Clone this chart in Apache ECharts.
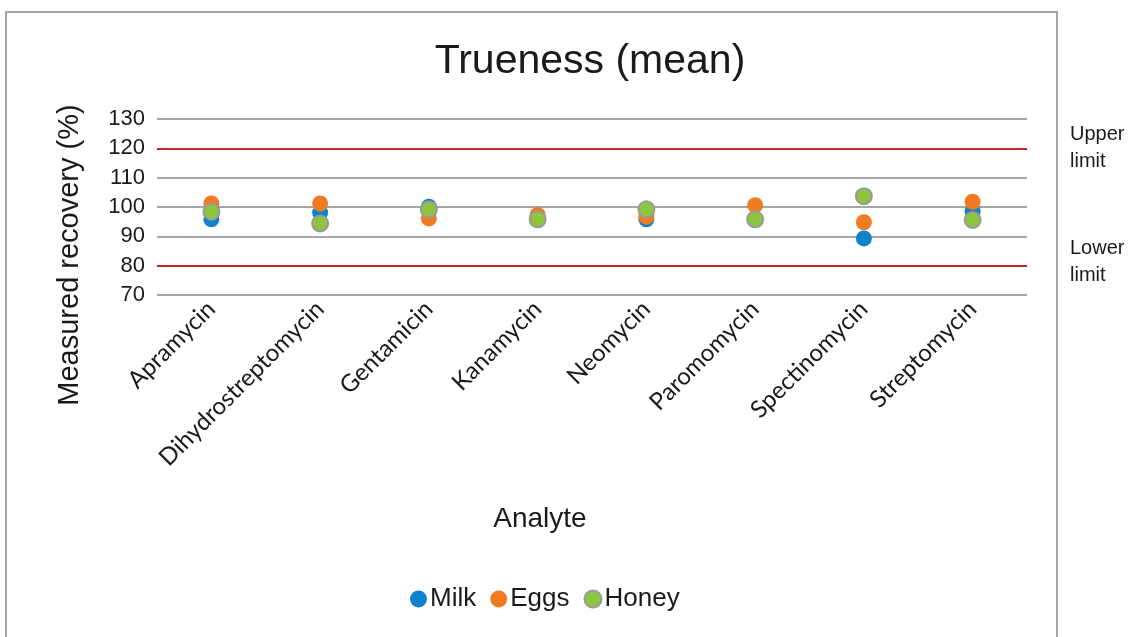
<!DOCTYPE html>
<html>
<head>
<meta charset="utf-8">
<script src="https://cdn.jsdelivr.net/npm/echarts@6/dist/echarts.min.js"></script>
<style>
  html, body { margin: 0; padding: 0; background: #fff; }
  #chart { width: 1133px; height: 637px; }
</style>
</head>
<body>
<div id="chart"></div>
<script>
  let analytes = ['Apramycin', 'Dihydrostreptomycin', 'Gentamicin', 'Kanamycin', 'Neomycin', 'Paromomycin', 'Spectinomycin', 'Streptomycin']
  let milk = [95.8, 98.1, 100.1, 96.0, 95.8, 95.9, 89.3, 98.4]
  let eggs = [101.2, 101.2, 96.1, 97.3, 96.7, 100.6, 94.8, 101.8]
  let honey = [98.4, 94.4, 99.2, 95.8, 99.2, 95.8, 103.7, 95.6]
  let limits = [120, 80]

  let myChart = echarts.init(document.getElementById('chart'))
  let font = 'Liberation Sans, Arial, sans-serif'

  let makeSeries = (name, data, color, border) => ({
    name: name,
    type: 'scatter',
    data: data,
    symbolSize: 16,
    z: 3,
    itemStyle: {
      color: color,
      borderColor: border || color,
      borderWidth: border ? 2 : 0,
      opacity: 1
    }
  })

  let series = [
    makeSeries('Milk', milk, '#0e83cc'),
    makeSeries('Eggs', eggs, '#f07b22'),
    makeSeries('Honey', honey, '#8cc63f', '#999999')
  ]
  // red limit lines
  series[0].markLine = {
    silent: true,
    symbol: 'none',
    label: {show: false},
    lineStyle: {color: '#c1272d', width: 2, type: 'solid'},
    data: limits.map(v => ({yAxis: v}))
  }

  let option = {
    animation: false,
    title: {
      text: 'Trueness (mean)',
      left: 585,
      textAlign: 'center',
      top: 36,
      textStyle: {fontFamily: font, fontSize: 41, fontWeight: 'normal', color: '#1a1a1a'}
    },
    legend: {
      data: ['Milk', 'Eggs', 'Honey'],
      top: 581,
      left: 405,
      icon: 'circle',
      itemWidth: 17,
      itemHeight: 17,
      itemGap: 14,
      textStyle: {fontFamily: font, fontSize: 26, color: '#1a1a1a', padding: [0, 0, 0, -2]}
    },
    grid: {left: 157, right: 106, top: 119, bottom: 342},
    xAxis: {
      type: 'category',
      data: analytes,
      axisLine: {show: false},
      axisTick: {show: false},
      axisLabel: {rotate: 45, margin: 10, fontFamily: 'Lato, sans-serif', fontSize: 24, color: '#1a1a1a'}
    },
    yAxis: {
      type: 'value',
      min: 70,
      max: 130,
      interval: 10,
      axisLine: {show: false},
      axisTick: {show: false},
      axisLabel: {margin: 12, fontFamily: font, fontSize: 22, color: '#1a1a1a'},
      splitLine: {lineStyle: {color: '#a6a6a6', width: 2}}
    },
    graphic: [
      {
        type: 'rect',
        shape: {x: 6, y: 12, width: 1051, height: 640},
        style: {fill: 'none', stroke: '#a6a6a6', lineWidth: 2},
        silent: true
      },
      {
        // y axis name
        type: 'text',
        x: 70,
        y: 255,
        rotation: Math.PI / 2,
        style: {text: 'Measured recovery (%)', fontFamily: font, fontSize: 29, fill: '#1a1a1a', align: 'center', verticalAlign: 'middle'}
      },
      {
        // x axis name
        type: 'text',
        x: 540,
        y: 519,
        style: {text: 'Analyte', fontFamily: font, fontSize: 28, fill: '#1a1a1a', align: 'center', verticalAlign: 'middle'}
      },
      {
        type: 'text',
        left: 1070,
        top: 121,
        style: {text: 'Upper\nlimit', fontFamily: font, fontSize: 20, lineHeight: 27, fill: '#1a1a1a'}
      },
      {
        type: 'text',
        left: 1070,
        top: 235,
        style: {text: 'Lower\nlimit', fontFamily: font, fontSize: 20, lineHeight: 27, fill: '#1a1a1a'}
      }
    ],
    series: series
  }
  myChart.setOption(option)
</script>
</body>
</html>
